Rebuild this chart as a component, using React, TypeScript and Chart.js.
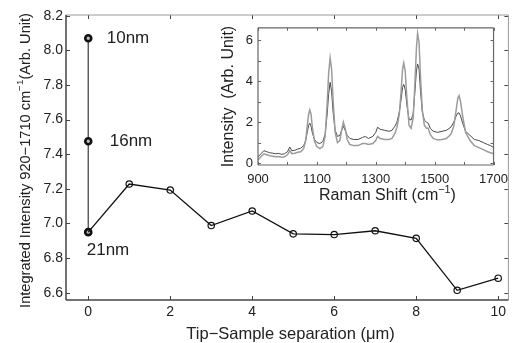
import React, { useEffect, useRef } from "react";
import { Chart, registerables } from "chart.js";
Chart.register(...registerables);

const FONT = "'Liberation Sans', Arial, Helvetica, sans-serif";
const TEXT = "#222";

// ---- main chart data ----
const separationUm = [0, 1, 2, 3, 4, 5, 6, 7, 8, 9, 10];
const integratedIntensity = [6.95, 7.228, 7.193, 6.988, 7.072, 6.94, 6.936, 6.958, 6.914, 6.614, 6.684];
const tipGapLabels = ["10nm", "16nm", "21nm"];
const tipGapIntensity = [8.07, 7.475, 6.95];
const mainXTicks = [0, 2, 4, 6, 8, 10];
const mainYTicks = [6.6, 6.8, 7.0, 7.2, 7.4, 7.6, 7.8, 8.0, 8.2];

// ---- inset spectra ----
const ramanShift = [900, 910, 920, 930, 940, 950, 960, 970, 980, 990, 1000, 1008, 1015, 1025, 1035, 1045, 1055, 1062, 1068, 1072, 1076, 1080, 1085, 1092, 1100, 1110, 1120, 1128, 1135, 1140, 1145, 1150, 1155, 1162, 1170, 1178, 1184, 1190, 1196, 1203, 1212, 1225, 1240, 1255, 1265, 1275, 1290, 1300, 1306, 1315, 1330, 1345, 1355, 1365, 1372, 1380, 1386, 1391, 1395, 1400, 1406, 1413, 1420, 1427, 1433, 1438, 1442, 1447, 1452, 1458, 1465, 1472, 1478, 1485, 1495, 1510, 1525, 1540, 1555, 1565, 1573, 1579, 1583, 1588, 1595, 1605, 1620, 1635, 1650, 1665, 1680, 1690, 1700];
const spectrumLight = [0.15, 0.3, 0.45, 0.4, 0.35, 0.33, 0.3, 0.32, 0.28, 0.3, 0.4, 0.6, 0.45, 0.48, 0.52, 0.55, 0.7, 1.1, 1.9, 2.4, 2.6, 2.4, 1.7, 1.05, 0.8, 0.7, 0.8, 1.3, 2.9, 4.4, 5.15, 4.6, 3.1, 1.5, 1.0, 1.1, 1.6, 2.0, 1.7, 1.15, 0.9, 0.85, 0.85, 0.95, 0.95, 0.9, 0.95, 1.1, 1.3, 1.2, 1.15, 1.15, 1.2, 1.45, 1.75, 2.4, 3.5, 4.6, 4.9, 4.5, 3.1, 1.85, 1.7, 2.2, 3.9, 5.6, 6.35, 5.9, 4.2, 2.6, 1.85, 1.7, 1.7, 1.4, 1.2, 1.12, 1.15, 1.2, 1.4, 1.8, 2.6, 3.2, 3.3, 3.0, 2.3, 1.5, 1.1, 0.85, 0.75, 0.65, 0.55, 0.5, 0.45];
const spectrumDark = [0.3, 0.45, 0.6, 0.55, 0.5, 0.48, 0.45, 0.47, 0.42, 0.45, 0.55, 0.78, 0.6, 0.62, 0.68, 0.72, 0.85, 1.1, 1.55, 1.85, 1.95, 1.8, 1.45, 1.15, 1.0, 0.95, 1.05, 1.4, 2.4, 3.4, 3.95, 3.5, 2.5, 1.6, 1.3, 1.35, 1.6, 1.8, 1.6, 1.35, 1.2, 1.15, 1.15, 1.25, 1.3, 1.2, 1.3, 1.5, 1.75, 1.65, 1.6, 1.55, 1.6, 1.8, 2.0, 2.5, 3.1, 3.7, 3.85, 3.6, 2.8, 2.15, 2.1, 2.4, 3.5, 4.5, 4.85, 4.6, 3.5, 2.5, 2.1, 2.0, 1.95, 1.7, 1.55, 1.5, 1.55, 1.6, 1.75, 2.0, 2.3, 2.45, 2.45, 2.3, 1.95, 1.55, 1.35, 1.15, 1.1, 1.0, 0.9, 0.85, 0.75];
const insetXTicks = [900, 1000, 1100, 1200, 1300, 1400, 1500, 1600, 1700];
const insetXLabeled = [900, 1100, 1300, 1500, 1700];
const insetYTicks = [0, 1, 2, 3, 4, 5, 6];
const insetYLabeled = [0, 2, 4, 6];

type Part = { text: string; sup?: boolean };

function drawRich(ctx: CanvasRenderingContext2D, parts: Part[], cx: number, cy: number, size: number, rotate: boolean) {
  ctx.save();
  ctx.translate(cx, cy);
  if (rotate) ctx.rotate(-Math.PI / 2);
  const supSize = size * 0.68;
  let total = 0;
  const widths = parts.map((p) => {
    ctx.font = `${p.sup ? supSize : size}px ${FONT}`;
    const w = ctx.measureText(p.text).width;
    total += w;
    return w;
  });
  let x = -total / 2;
  ctx.textBaseline = "middle";
  ctx.textAlign = "left";
  ctx.fillStyle = TEXT;
  parts.forEach((p, i) => {
    ctx.font = `${p.sup ? supSize : size}px ${FONT}`;
    ctx.fillText(p.text, x, p.sup ? -size * 0.4 : 0);
    x += widths[i];
  });
  ctx.restore();
}

function framePlugin(o: { L: number; strongColor: string; weakColor: string; strongWidth: number; allStrong?: boolean }) {
  return {
    id: "frameTicks",
    afterDraw(chart: any) {
      const { ctx, chartArea: a, scales } = chart;
      const xs = scales.x, ys = scales.y;
      ctx.save();
      ctx.lineWidth = 1;
      ctx.strokeStyle = o.strongColor;
      const seg = (x1: number, y1: number, x2: number, y2: number) => {
        ctx.beginPath(); ctx.moveTo(x1, y1); ctx.lineTo(x2, y2); ctx.stroke();
      };
      xs.ticks.forEach((t: any) => {
        const px = Math.round(xs.getPixelForValue(t.value)) + 0.5;
        seg(px, a.bottom, px, a.bottom - o.L);
        seg(px, a.top, px, a.top + o.L);
      });
      ys.ticks.forEach((t: any) => {
        const py = Math.round(ys.getPixelForValue(t.value)) + 0.5;
        seg(a.left, py, a.left + o.L, py);
        seg(a.right, py, a.right - o.L, py);
      });
      ctx.strokeStyle = o.allStrong ? o.strongColor : o.weakColor;
      ctx.lineWidth = o.allStrong ? o.strongWidth : 1;
      seg(a.left, a.top, a.right, a.top);
      seg(a.right, a.top, a.right, a.bottom);
      ctx.strokeStyle = o.strongColor;
      ctx.lineWidth = o.strongWidth;
      seg(a.left, a.top, a.left, a.bottom);
      seg(a.left, a.bottom, a.right, a.bottom);
      ctx.restore();
    },
  };
}

const mainTextPlugin = {
  id: "mainText",
  afterDraw(chart: any) {
    const { ctx, scales } = chart;
    const xs = scales.x, ys = scales.y;
    const x0 = xs.getPixelForValue(0);
    const offsets = [[18.5, 0], [21.5, 0], [-1.5, 18]];
    ctx.save();
    ctx.font = `17px ${FONT}`;
    ctx.fillStyle = TEXT;
    ctx.textBaseline = "middle";
    ctx.textAlign = "left";
    tipGapLabels.forEach((lab, i) => {
      const py = ys.getPixelForValue(tipGapIntensity[i]);
      ctx.fillText(lab, x0 + offsets[i][0], py + offsets[i][1]);
    });
    ctx.restore();
    drawRich(ctx, [{ text: "Tip\u2212Sample separation (\u03bcm)" }], 290.5, 334, 16.5, false);
    drawRich(ctx, [{ text: "Integrated Intensity 920\u22121710 cm" }, { text: "\u22121", sup: true }, { text: "(Arb. Unit)" }], 26, 160.5, 14.6, true);
  },
};

const insetTextPlugin = {
  id: "insetText",
  afterDraw(chart: any) {
    const { ctx } = chart;
    drawRich(ctx, [{ text: "Raman Shift (cm" }, { text: "\u22121", sup: true }, { text: ")" }], 177.5, 181, 16, false);
    drawRich(ctx, [{ text: "Intensity  (Arb. Unit)" }], 19, 81.5, 16, true);
  },
};

export default function App() {
  const mainRef = useRef<HTMLCanvasElement>(null);
  const insetRef = useRef<HTMLCanvasElement>(null);

  useEffect(() => {
    const tickFont = { family: FONT, size: 14 };
    const main = new Chart(mainRef.current!, {
      type: "line",
      data: {
        datasets: [
          {
            data: separationUm.map((x, i) => ({ x, y: integratedIntensity[i] })),
            borderColor: "#111",
            borderWidth: 1.3,
            pointRadius: 3.2,
            pointBorderWidth: 1.2,
            pointBorderColor: "#111",
            pointBackgroundColor: "rgba(255,255,255,0)",
            tension: 0,
          },
          {
            data: tipGapIntensity.map((y) => ({ x: 0, y })),
            borderColor: "#555",
            borderWidth: 1.4,
            pointRadius: 3.0,
            pointBorderWidth: 2.6,
            pointBorderColor: "#111",
            pointBackgroundColor: "#bbb",
            tension: 0,
          },
        ],
      },
      options: {
        responsive: false,
        animation: false,
        events: [],
        layout: { padding: { left: 0, right: 2, top: 15, bottom: 0 } },
        plugins: { legend: { display: false }, tooltip: { enabled: false } },
        scales: {
          x: {
            type: "linear",
            min: -0.543,
            max: 10.249,
            grid: { display: false, drawTicks: false },
            border: { display: false },
            ticks: { font: tickFont, color: TEXT, padding: 4, maxRotation: 0 },
            afterBuildTicks: (s: any) => { s.ticks = mainXTicks.map((v) => ({ value: v })); },
            afterFit: (s: any) => { s.height = 43; },
          },
          y: {
            type: "linear",
            min: 6.558,
            max: 8.204,
            grid: { display: false, drawTicks: false },
            border: { display: false },
            ticks: { font: tickFont, color: TEXT, padding: 3, callback: (v: any) => Number(v).toFixed(1) },
            afterBuildTicks: (s: any) => { s.ticks = mainYTicks.map((v) => ({ value: v })); },
            afterFit: (s: any) => { s.width = 66; },
          },
        },
      },
      plugins: [framePlugin({ L: 4, strongColor: "#444", weakColor: "#9a9a9a", strongWidth: 1.5 }), mainTextPlugin],
    } as any);

    const insetFont = { family: FONT, size: 13 };
    const inset = new Chart(insetRef.current!, {
      type: "line",
      data: {
        datasets: [
          {
            data: ramanShift.map((x, i) => ({ x, y: spectrumLight[i] })),
            borderColor: "#9c9c9c",
            borderWidth: 1.5,
            pointRadius: 0,
            tension: 0,
          },
          {
            data: ramanShift.map((x, i) => ({ x, y: spectrumDark[i] })),
            borderColor: "#4a4a4a",
            borderWidth: 1,
            pointRadius: 0,
            tension: 0,
          },
        ],
      },
      options: {
        responsive: false,
        animation: false,
        events: [],
        layout: { padding: { left: 0, right: 13, top: 7, bottom: 0 } },
        plugins: { legend: { display: false }, tooltip: { enabled: false } },
        scales: {
          x: {
            type: "linear",
            min: 900,
            max: 1700,
            grid: { display: false, drawTicks: false },
            border: { display: false },
            ticks: {
              font: insetFont, color: TEXT, padding: 7, maxRotation: 0, autoSkip: false,
              callback: (v: any) => (insetXLabeled.includes(Number(v)) ? String(v) : ""),
            },
            afterBuildTicks: (s: any) => { s.ticks = insetXTicks.map((v) => ({ value: v })); },
            afterFit: (s: any) => { s.height = 45; },
          },
          y: {
            type: "linear",
            min: -0.1,
            max: 6.62,
            grid: { display: false, drawTicks: false },
            border: { display: false },
            ticks: {
              font: insetFont, color: TEXT, padding: 5, autoSkip: false,
              callback: (v: any) => (insetYLabeled.includes(Number(v)) ? String(v) : ""),
            },
            afterBuildTicks: (s: any) => { s.ticks = insetYTicks.map((v) => ({ value: v })); },
            afterFit: (s: any) => { s.width = 48; },
          },
        },
      },
      plugins: [framePlugin({ L: 3, strongColor: "#666", weakColor: "#666", strongWidth: 1.2, allStrong: true }), insetTextPlugin],
    } as any);

    return () => {
      main.destroy();
      inset.destroy();
    };
  }, []);

  return (
    <div style={{ position: "absolute", left: 0, top: 0, width: 515, height: 343, background: "#fff" }}>
      <canvas ref={mainRef} width={515} height={343} style={{ position: "absolute", left: 0, top: 0, width: 515, height: 343 }} />
      <canvas ref={insetRef} width={305} height={195} style={{ position: "absolute", left: 210, top: 15, width: 305, height: 195 }} />
    </div>
  );
}
